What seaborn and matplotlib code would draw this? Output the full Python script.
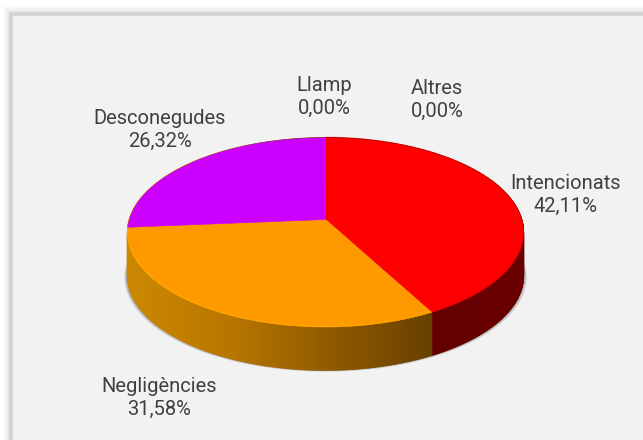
import numpy as np
import matplotlib
matplotlib.use("Agg")
import matplotlib.pyplot as plt
import seaborn as sns
from matplotlib.collections import PolyCollection
from matplotlib.patches import Rectangle
from matplotlib.path import Path
from matplotlib.transforms import Transform

# --- data -----------------------------------------------------------------
categories = ["Intencionats", "Negligències", "Desconegudes", "Llamp", "Altres"]
percentages = [42.11, 31.58, 26.32, 0.00, 0.00]
top_colors = ["#FF0000", "#FF9900", "#CC00FF"]

# --- layout (pixels) ------------------------------------------------------
W, H = 643, 440
CX, CY = 325.5, 219.5  # apex of the pie
RX, RY = 196.0, 92.8   # projective scale
K = 0.137              # perspective strength
DEPTH = 43
label_xy = {
    "Intencionats": (565, 195),
    "Negligències": (159, 398),
    "Desconegudes": (160, 130),
    "Llamp": (324, 97),
    "Altres": (437, 100),
}
TEXT = "#404040"

sns.set_theme(style="white")
plt.rcParams["font.family"] = ["Roboto", "DejaVu Sans"]


class Perspective(Transform):
    """Maps the unit pie disc on to a tilted disc seen in perspective."""
    input_dims = output_dims = 2
    is_separable = False
    has_inverse = False

    def transform_non_affine(self, values):
        v = np.asarray(values, dtype=float)
        den = 1 + K * v[:, 1]
        return np.column_stack([CX + RX * v[:, 0] / den, CY - RY * v[:, 1] / den])

    def transform_path_non_affine(self, path):
        # flatten the curves at a large scale, so that the arcs stay smooth
        big = Path(path.vertices * 2000.0, path.codes)
        polys = big.to_polygons(closed_only=False)
        if not polys:
            return Path(self.transform_non_affine(path.vertices), path.codes)
        return Path(self.transform_non_affine(polys[0] / 2000.0))


persp = Perspective()


def unit(theta_deg):
    t = np.radians(theta_deg)
    return np.column_stack([np.sin(t), np.cos(t)])


fig = plt.figure(figsize=(W / 100, H / 100), dpi=100, facecolor="white")
ax = fig.add_axes([0, 0, 1, 1])

wedges, _ = ax.pie(percentages, colors=top_colors + ["#888888", "#888888"],
                   startangle=90, counterclock=False, radius=1)
ax.set_aspect("auto")
ax.set_xlim(0, W)
ax.set_ylim(H, 0)
ax.axis("off")

for w, val, col in zip(wedges, percentages, top_colors + [None, None]):
    if val == 0:
        w.set_visible(False)
        continue
    w.set_transform(persp + ax.transData)
    w.set_edgecolor(col)
    w.set_linewidth(0.4)
    w.set_zorder(5)

# panel with soft shadow
for i, a in zip(range(10, 0, -1), np.linspace(0.012, 0.05, 10)):
    ax.add_patch(Rectangle((12 - i, 15 - i), W + 40, H + 40, fc="#808080", ec="none", alpha=a, zorder=0))
ax.add_patch(Rectangle((11, 14), W + 40, H + 40, fc="#F2F2F2", ec="#D2D2D2", lw=2.6, zorder=1))

# soft shadow under the disc
all_t = np.linspace(0, 360, 721)
ring = persp.transform_non_affine(unit(all_t))
for d, a in zip((3.5, 2.5, 1.5), (0.14, 0.2, 0.3)):
    scaled = ring.copy()
    scaled[:, 0] = CX + (scaled[:, 0] - CX) * (1 + d / RX)
    scaled[:, 1] += DEPTH + d * 0.5
    ax.fill(scaled[:, 0], scaled[:, 1], color="#606060", alpha=a, lw=0, zorder=2)

# extruded side wall, shaded along x
orange_side = sns.blend_palette(["#CC8800", "#B87600", "#8F5A00", "#684000"], 256)
red_side = sns.blend_palette(["#5E0000", "#6A0000"], 256)
side_palettes = [red_side, orange_side, orange_side]
edges = np.concatenate([[0], np.cumsum(percentages)]) * 3.6 * 100 / sum(percentages)
polys, facecols = [], []
for i in range(3):
    ts = np.linspace(edges[i], edges[i + 1], int(edges[i + 1] - edges[i]) * 2 + 2)
    pts = persp.transform_non_affine(unit(ts))
    lo, hi = pts[:, 0].min(), pts[:, 0].max()
    for a, b in zip(pts[:-1], pts[1:]):
        polys.append([a, b, b + [0, DEPTH], a + [0, DEPTH]])
        frac = (0.5 * (a[0] + b[0]) - lo) / max(hi - lo, 1)
        facecols.append(side_palettes[i][int(frac * 255)])
ax.add_collection(PolyCollection(polys, facecolors=facecols, edgecolors=facecols, linewidths=1.0, zorder=3))

# bright rim of the disc
rims = ["#E00000", "#FFB000"]
for i in range(2):
    ts = np.linspace(edges[i], edges[i + 1], 200)
    pts = persp.transform_non_affine(unit(ts))
    ax.plot(pts[:, 0], pts[:, 1] - 0.6, color=rims[i], lw=0.8, alpha=0.6, zorder=6, solid_capstyle="butt")

# labels
for name, val in zip(categories, percentages):
    x, y = label_xy[name]
    txt = f"{name}\n{val:.2f}%".replace(".", ",")
    ax.text(x, y, txt, ha="center", va="center", fontsize=14.5, color=TEXT,
            linespacing=1.32, zorder=7)

fig.savefig("out.png", dpi=100, facecolor="white")
